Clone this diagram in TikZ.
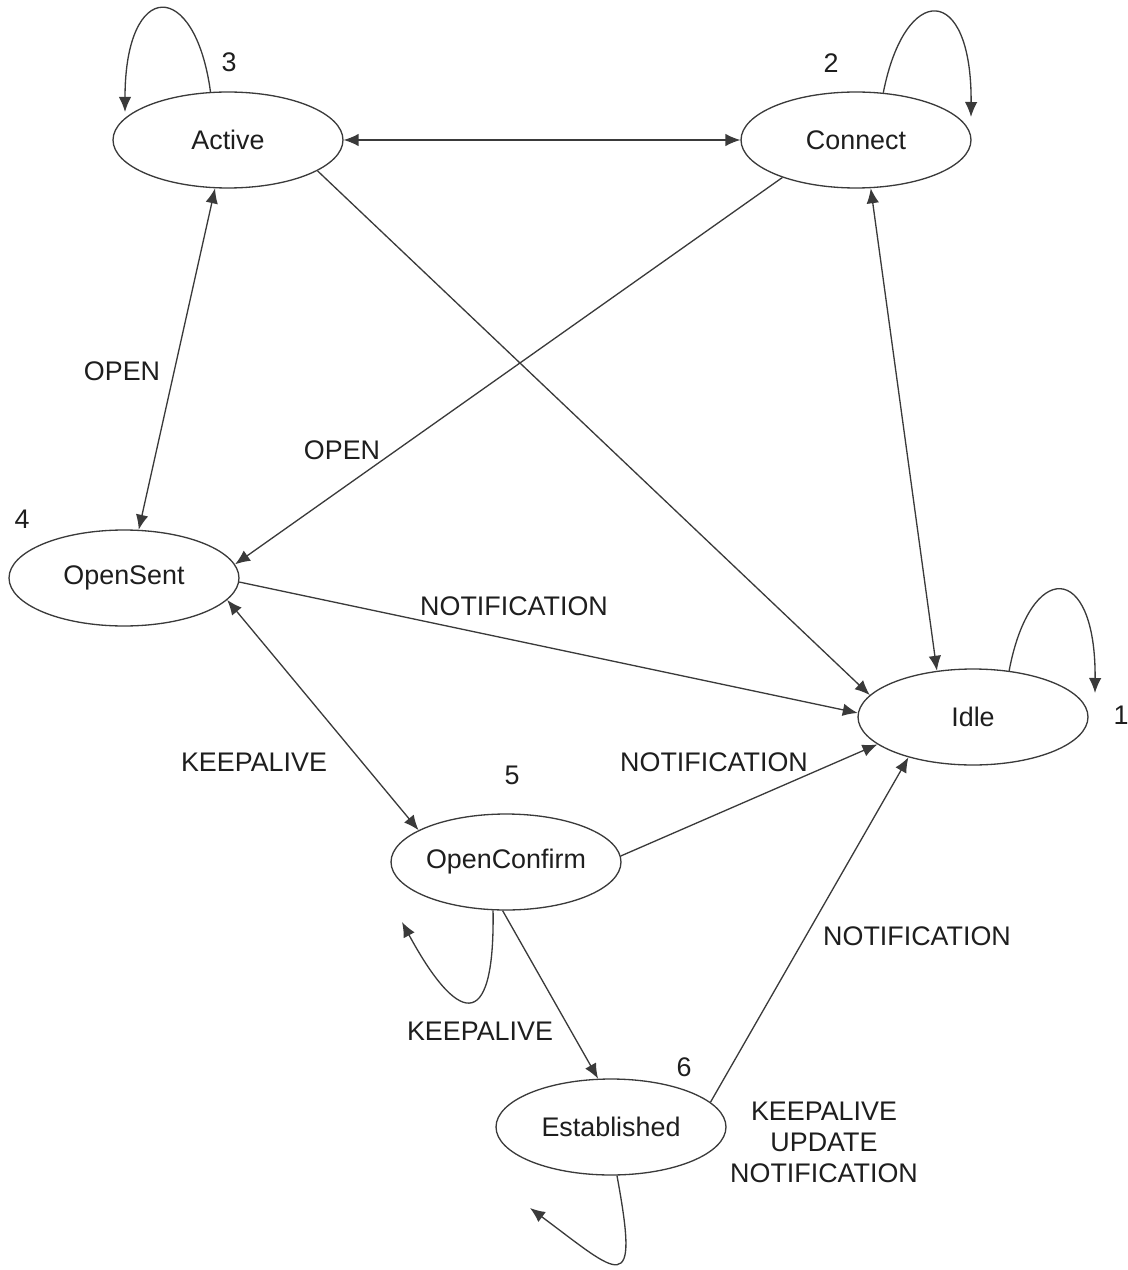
\documentclass[tikz,border=0pt]{standalone}
\usepackage{fontspec}
\setmainfont{Liberation Sans}
\usetikzlibrary{shapes.geometric,arrows.meta}
\definecolor{linegray}{HTML}{3A3A3A}
\definecolor{textgray}{HTML}{1E1E1E}
\tikzset{
    bgpstate/.style={ellipse, draw=linegray, line width=0.75pt, inner sep=0pt,
        minimum width=4.6cm, minimum height=1.92cm, text=textgray},
    edge/.style={draw=linegray, line width=0.75pt, -{Latex[length=0.3cm,width=0.25cm]}},
    biedge/.style={edge, {Latex[length=0.3cm,width=0.25cm]}-{Latex[length=0.3cm,width=0.25cm]}},
    lbl/.style={text=textgray, inner sep=0pt}
}
\begin{document}
\begin{tikzpicture}[x=0.02cm, y=-0.02cm, font=\fontsize{15.3}{17.6}\selectfont]
    \useasboundingbox (0,0) rectangle (1128,1270);

    \node[bgpstate] (active)  at (228,140)  {Active};
    \node[bgpstate] (connect) at (856,140)  {Connect};
    \node[bgpstate] (opensent) at (124,578) {OpenSent};
    \node[bgpstate] (idle)    at (973,717)  {Idle};
    \node[bgpstate] (openconf) at (506,862) {OpenConfirm};
    \node[bgpstate] (estab)   at (611,1127) {Established};

    \node[lbl] (n3) at (229,62)   {3};
    \node[lbl] (n2) at (831,63)   {2};
    \node[lbl] (n4) at (22,519)   {4};
    \node[lbl] (n1) at (1121,715) {1};
    \node[lbl] (n5) at (512,775)  {5};
    \node[lbl] (n6) at (684,1067) {6};

    \draw[biedge] (active.east) -- (connect.west);
    \draw[edge] (active.-19.6) -- (idle.168);
    \draw[edge] (connect.-153.4) -- (opensent.7.5);
    \draw[biedge] (active.-105.2) -- (opensent.73.7);
    \draw[biedge] (connect.-73.4) -- (idle.128.5);
    \draw[edge] (opensent.-2) -- (idle.178);
    \draw[biedge] (opensent.-12.5) -- (openconf.160);
    \draw[edge] (openconf.3) -- (idle.196);
    \draw[edge] (openconf.-94.8) -- (estab.105);
    \draw[edge] (estab.14.8) -- (idle.-148.4);

    \coordinate (activeloop) at (125,112);
    \coordinate (connectloop) at (971,117);
    \coordinate (idleloop) at (1095,693);
    \coordinate (openconfloop) at (402,922);
    \coordinate (establoop) at (530,1208);

    \draw[edge] (active.110) .. controls (195,-22) and (125,-22) .. (activeloop);
    \draw[edge] (connect.60.5) .. controls (905,-18) and (972,-18) .. (connectloop);
    \draw[edge] (idle.52.6) .. controls (1030,560) and (1096,560) .. (idleloop);
    \draw[edge] (openconf.-105.6) .. controls (495,1040) and (455,1020) .. (openconfloop);
    \draw[edge] (estab.-83) .. controls (640,1300) and (620,1275) .. (establoop);

    \node[lbl] (open1) at (122,371) {OPEN};
    \node[lbl] (open2) at (342,450) {OPEN};
    \node[lbl] (notif1) at (514,606) {NOTIFICATION};
    \node[lbl] (keep1) at (254,762) {KEEPALIVE};
    \node[lbl] (notif2) at (714,762) {NOTIFICATION};
    \node[lbl] (keep2) at (480,1031) {KEEPALIVE};
    \node[lbl] (notif3) at (917,936) {NOTIFICATION};
    \node[lbl, align=center] (estmsg) at (824,1142) {KEEPALIVE\\UPDATE\\NOTIFICATION};
\end{tikzpicture}
\end{document}
